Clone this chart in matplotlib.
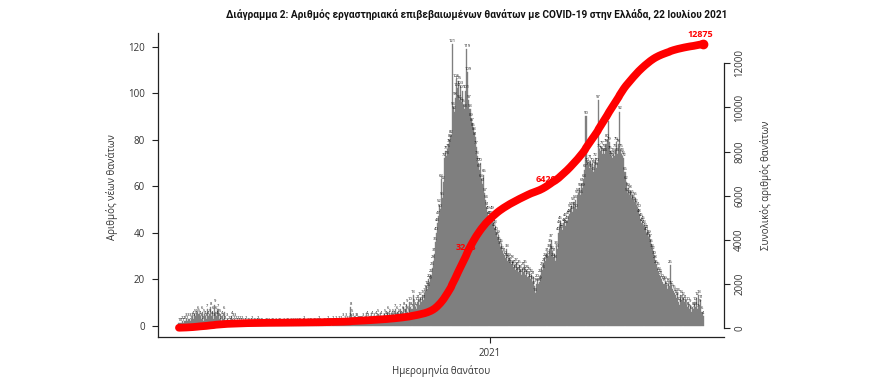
import numpy as np
import pandas as pd
import matplotlib
matplotlib.use("Agg")
import matplotlib.pyplot as plt
import matplotlib.dates as mdates

plt.rcParams['font.family'] = ['Open Sans', 'Noto Sans', 'DejaVu Sans']

# ---- Data: daily deaths (by date of death), 12 Mar 2020 - 22 Jul 2021 ----
start_date = "2020-03-12"
end_date = "2021-07-22"
mar20 = [1,1,1,2,1,2,2,3,2,3,3,2,3,4,3,5,4,5,6,5]
apr20 = [4,3,6,2,5,4,3,7,4,5,8,4,6,3,9,6,4,7,3,5,2,4,3,6,2,1,3,2,1,2]
may20 = [4,3,2,3,2,1,2,1,2,1,2,1,1,0,2,1,1,0,1,2,0,1,1,0,1,2,1,0,1,1,0]
jun20 = [0,1,1,0,1,0,0,1,1,0,0,1,0,0,1,1,0,0,1,0,0,1,1,0,0,1,0,1,0,1]
jul20 = [0,1,0,1,1,0,0,1,2,0,0,1,0,1,1,0,0,1,1,0,1,0,2,1,0,0,1,1,0,1,2]
aug20 = [1,1,1,0,2,1,1,2,1,1,2,1,2,1,3,2,3,2,1,2,3,8,5,3,2,2,3,3,2,2,2]
sep20 = [2,2,3,2,3,4,3,2,2,3,4,2,3,2,4,3,5,2,3,4,2,3,5,4,3,6,4,5,3,4]
oct20 = [5,4,7,3,6,4,5,7,4,6,8,5,7,9,6,5,10,8,7,13,9,8,7,10,11,9,12,10,13,11,14]
nov20 = [15,17,16,20,19,22,25,28,31,36,40,44,47,52,50,63,55,62,72,75,73,76,78,80,82,
         121,94,92,98,106]
dec20 = [102,105,97,103,96,101,95,93,101,119,109,97,93,89,87,85,83,81,77,73,70,67,70,
         63,61,65,57,54,51,49,47]
jan21 = [47,45,49,44,42,43,40,38,39,36,34,35,32,31,30,29,33,28,29,27,26,28,25,26,24,
         27,25,23,26,24,22]
feb21 = [25,23,26,22,24,21,23,20,22,19,21,17,14,18,20,18,19,22,25,24,27,29,28,31,30,
         33,35,37]
mar21 = [32,29,31,28,34,33,40,43,45,42,41,44,46,43,45,47,48,50,51,49,53,51,54,50,56,
         57,59,56,61,59,63]
apr21 = [67,90,70,69,68,71,67,70,66,69,72,68,70,97,76,75,77,74,76,74,78,80,88,79,75,
         73,72,74,73,76]
may21 = [79,74,78,92,76,74,73,72,66,62,57,59,56,58,55,56,54,53,55,52,51,50,48,46,44,
         45,43,42,40,41,38]
jun21 = [39,37,35,33,32,30,28,26,25,23,22,21,20,19,18,19,17,16,18,17,26,17,16,15,14,
         13,12,14,10,9]
jul21 = [13,11,12,10,11,9,8,10,7,9,6,8,7,10,8,12,7,13,9,11,6,4]

milestones = [3248, 6420]
y_ticks_left = [0, 20, 40, 60, 80, 100, 120]
y_ticks_right = [0, 2000, 4000, 6000, 8000, 10000, 12000]
x_tick_date = "2021-01-01"
x_tick_label = "2021"

title = ("Διάγραμμα 2: Αριθμός εργαστηριακά επιβεβαιωμένων θανάτων "
         "με COVID-19 στην Ελλάδα, 22 Ιουλίου 2021")
ylabel_left = "Αριθμός νέων θανάτων"
ylabel_right = "Συνολικός αριθμός θανάτων"
xlabel = "Ημερομηνία θανάτου"

daily = np.array(mar20 + apr20 + may20 + jun20 + jul20 + aug20 + sep20 + oct20 +
                 nov20 + dec20 + jan21 + feb21 + mar21 + apr21 + may21 + jun21 + jul21)
dates = pd.date_range(start_date, end_date, freq="D")
assert len(dates) == len(daily)
cum = np.cumsum(daily)
xd = mdates.date2num(dates.to_pydatetime())

# ---- Figure ----
fig = plt.figure(figsize=(8.8, 3.78), dpi=100)
ax = fig.add_axes([158/880, 1-337/378, (724-158)/880, (337-33)/378])

txt_col = "#333333"
bar_col = "#7f7f7f"
ax.bar(xd, daily, width=1.0, color=bar_col, linewidth=0.25, edgecolor=bar_col, zorder=2)
for x, v in zip(xd, daily):
    ax.annotate(str(v), (x, v), xytext=(0, 1.0), textcoords="offset points",
                ha="center", va="bottom", fontsize=3.0, color="#1a1a1a", zorder=3)

span = xd[-1] - xd[0]
ax.set_xlim(xd[0] - 0.04*span, xd[-1] + 0.04*span)
ax.set_ylim(-4.84, 125.84)
ax.set_yticks(y_ticks_left)
ax.set_yticklabels([str(t) for t in y_ticks_left])
ax.set_xticks([mdates.date2num(pd.Timestamp(x_tick_date).to_pydatetime())])
ax.set_xticklabels([x_tick_label])
ax.tick_params(axis="both", length=4.3, width=0.8, colors="#222222",
               labelcolor=txt_col, labelsize=7)
ax.tick_params(axis="y", pad=5)
ax.tick_params(axis="x", pad=3.5)
for s in ["top", "right"]:
    ax.spines[s].set_visible(False)
for s in ["left", "bottom"]:
    ax.spines[s].set_linewidth(0.9)
    ax.spines[s].set_color("#222222")
ax.set_ylabel(ylabel_left, fontsize=7, color=txt_col)
ax.yaxis.set_label_coords(-0.0707, 0.493)
ax.text(0.5, -0.112, xlabel, transform=ax.transAxes, ha="center", va="center",
        fontsize=7, color=txt_col)

ax2 = ax.twinx()
ax2.set_ylim(-420, 13380)
ax2.plot(xd, cum, color="#ff0000", lw=5.6, solid_capstyle="round", zorder=3)
ax2.plot([xd[-1]], [cum[-1]], "o", color="#ff0000", ms=6, zorder=4)
ax2.text(xd[-1] - 3, cum[-1] + 250, str(int(cum[-1])), color="#ff0000",
         fontsize=6.5, fontweight="bold", ha="center", va="bottom", zorder=5)
for m in milestones:
    i = int(np.searchsorted(cum, m))
    ax2.text(xd[i] - 1, cum[i] + 300, str(m), color="#ff0000", fontsize=6.5,
             fontweight="bold", ha="center", va="center", zorder=2)
ax2.set_yticks(y_ticks_right)
ax2.set_yticklabels([str(t) for t in y_ticks_right], rotation=90, va="center")
ax2.tick_params(axis="y", length=4.3, width=0.8, colors="#222222",
                labelcolor=txt_col, labelsize=7, pad=3)
for s in ["top", "left", "bottom"]:
    ax2.spines[s].set_visible(False)
ax2.spines["right"].set_bounds(0, 12000)
ax2.spines["right"].set_linewidth(0.9)
ax2.spines["right"].set_color("#222222")
ax2.set_ylabel(ylabel_right, fontsize=7, color=txt_col, rotation=90)
ax2.yaxis.set_label_coords(1.0636, 0.5)

fig.text(477/880, 1-14/378, title, ha="center", va="center", fontsize=7.25,
         fontweight="bold", color="#111111",
         family=["Roboto", "Open Sans", "DejaVu Sans"])

fig.savefig("out.png", dpi=100)
